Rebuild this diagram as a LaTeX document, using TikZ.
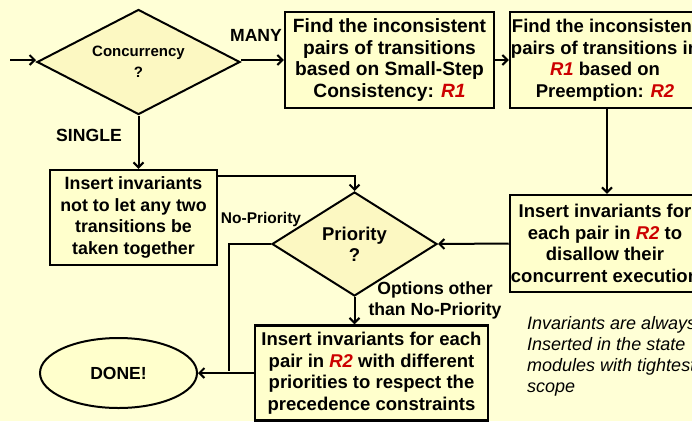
\documentclass[tikz,border=0pt]{standalone}
\usepackage{fontspec}
\setmainfont{Liberation Sans}
\usetikzlibrary{arrows.meta, positioning, shapes.geometric}
\definecolor{fcBack}{HTML}{FFFFD6}
\definecolor{fcFill}{HTML}{FFFFCC}
\definecolor{fcDiam}{HTML}{FCF8C2}
\definecolor{fcRed}{HTML}{CC0000}
\newcommand{\rel}[1]{{\color{fcRed}\itshape #1}}
\tikzset{
  task/.style={
    draw=black, line width=2.4pt, fill=fcFill, inner sep=1pt,
    align=center, font=\fontsize{18.5}{21.5}\selectfont\bfseries, text=black
  },
  choice/.style={
    diamond, draw=black, line width=2pt, fill=fcDiam, aspect=1.95,
    inner sep=0pt, align=center, text=black
  },
  finish/.style={ellipse, draw=black, line width=2pt, fill=fcFill,
    font=\fontsize{17.5}{20}\selectfont\bfseries},
  conn/.style={line width=2pt, draw=black},
  flow/.style={conn, -{Straight Barb[length=5pt, width=10pt, line width=2pt]}},
  lbl/.style={font=\fontsize{17.6}{21}\selectfont\bfseries, align=center, inner sep=1pt},
  note/.style={font=\fontsize{18}{21}\selectfont\itshape, align=left, anchor=north west, inner sep=0pt},
}
\begin{document}
\begin{tikzpicture}[x=1pt, y=-1pt]
  \fill[fcBack] (0,0) rectangle (692,421);
  \useasboundingbox (0,0) rectangle (692,421);
  \clip (0,0) rectangle (692,421);

  % decisions
  \node[choice, minimum width=203pt, minimum height=105pt,
        font=\fontsize{15}{21}\selectfont\bfseries] (conc) at (138.5,62) {Concurrency\\?};
  \node[choice, minimum width=165pt, minimum height=104pt,
        font=\fontsize{18.5}{21}\selectfont\bfseries] (prio) at (354.5,244) {Priority\\?};

  % tasks
  \node[task, minimum width=209pt, minimum height=96pt,
        font=\fontsize{19.2}{21.5}\selectfont\bfseries] (find1) at (389.5,60)
    {Find the inconsistent\\pairs of transitions\\based on Small-Step\\Consistency: \rel{R1}};
  \node[task, minimum width=186pt, minimum height=96pt] (find2) at (605,60)
    {Find the inconsistent\\pairs of transitions in\\\rel{R1} based on\\Preemption: \rel{R2}};
  \node[task, minimum width=184pt, minimum height=97pt] (disallow) at (605,243.5)
    {Insert invariants for\\each pair in \rel{R2} to\\disallow their\\concurrent execution};
  \node[task, minimum width=167pt, minimum height=95pt,
        font=\fontsize{17.8}{21.5}\selectfont\bfseries] (single) at (133.5,217.5)
    {Insert invariants\\not to let any two\\transitions be\\taken together};
  \node[task, minimum width=233pt, minimum height=95pt] (order) at (371.5,373)
    {Insert invariants for each\\pair in \rel{R2} with different\\priorities to respect the\\precedence constraints};
  \node[finish, minimum width=157pt, minimum height=70pt] (done) at (118.5,373) {DONE!};

  % labels
  \node[lbl] (many) at (256,35) {MANY};
  \node[lbl] (one) at (89,135) {SINGLE};
  \node[lbl, font=\fontsize{15.5}{18}\selectfont\bfseries] (nopri) at (261,219) {No-Priority};
  \node[lbl] (other) at (435,300) {Options other\\than No-Priority};
  \node[note] (remark) at (527,316) {Invariants are always\\Inserted in the state\\modules with tightest\\scope};

  % connectors
  \coordinate (start) at (10,60);
  \coordinate (npend) at (229,371);
  \draw[flow] (start) -- (start -| conc.west);
  \draw[flow] (conc.east |- find1.west) -- (find1.west);
  \draw[flow] (find1.east) -- (find2.west);
  \draw[flow] ([xshift=2pt]find2.south) -- ([xshift=2pt]disallow.north);
  \draw[flow] (disallow.west) -- (prio.east);
  \draw[flow] (conc.south) -- (conc.south |- single.north);
  \draw[flow] ([yshift=-7pt]single.north east) -| (prio.north);
  \draw[conn] (prio.west) -| (npend);
  \draw[flow] (prio.south) -- (prio.south |- order.north);
  \draw[flow] (order.west) -- (done.east);
\end{tikzpicture}
\end{document}
